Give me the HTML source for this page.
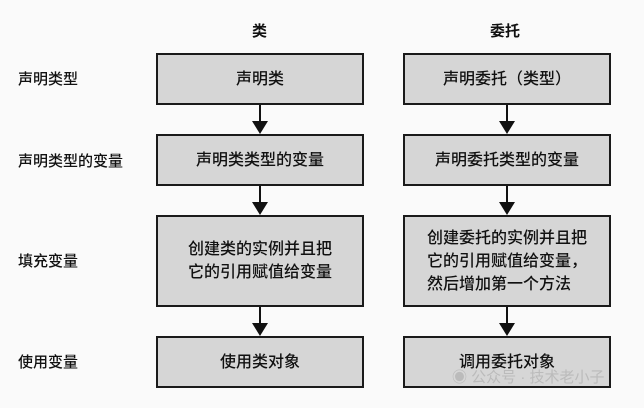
<!DOCTYPE html>
<html><head><meta charset="utf-8"><style>
body{margin:0;width:644px;height:408px;background:#fafafa;position:relative;overflow:hidden;font-family:"Liberation Sans","Noto Sans CJK SC",sans-serif;color:#111}
.b{position:absolute;background:#d6d6d6;border:2px solid #1a1a1a;box-sizing:border-box;display:flex;align-items:center;justify-content:center;font-size:16px;line-height:23px;text-align:left;font-weight:500}
.l{position:absolute;left:18px;font-size:15px;font-weight:500}
.h{position:absolute;top:20px;font-size:15px;font-weight:bold}
.ln{position:absolute;width:2px;background:#111}
.ar{position:absolute;width:0;height:0;border-left:8px solid transparent;border-right:8px solid transparent;border-top:13px solid #111}
.wm{position:absolute;left:452px;top:366px;font-size:15px;color:#bbb}
</style></head><body>
<div class="h" style="left:252px">类</div>
<div class="h" style="left:490px">委托</div>
<div class="l" style="top:68px">声明类型</div>
<div class="l" style="top:150px">声明类型的变量</div>
<div class="l" style="top:250px">填充变量</div>
<div class="l" style="top:351px">使用变量</div>

<div class="b" style="left:156px;top:53px;width:208px;height:52px">声明类</div>
<div class="b" style="left:156px;top:134px;width:208px;height:52px">声明类类型的变量</div>
<div class="b" style="left:156px;top:215px;width:208px;height:92px">创建类的实例并且把<br>它的引用赋值给变量</div>
<div class="b" style="left:156px;top:336px;width:208px;height:52px">使用类对象</div>

<div class="b" style="left:403px;top:53px;width:208px;height:52px">声明委托（类型）</div>
<div class="b" style="left:403px;top:134px;width:208px;height:52px">声明委托类型的变量</div>
<div class="b" style="left:403px;top:215px;width:208px;height:92px">创建委托的实例并且把<br>它的引用赋值给变量，<br>然后增加第一个方法</div>
<div class="b" style="left:403px;top:336px;width:208px;height:52px">调用委托对象</div>

<div class="ln" style="left:259px;top:105px;height:18px"></div><div class="ar" style="left:252px;top:121px"></div>
<div class="ln" style="left:259px;top:186px;height:18px"></div><div class="ar" style="left:252px;top:202px"></div>
<div class="ln" style="left:259px;top:307px;height:18px"></div><div class="ar" style="left:252px;top:323px"></div>
<div class="ln" style="left:506px;top:105px;height:18px"></div><div class="ar" style="left:499px;top:121px"></div>
<div class="ln" style="left:506px;top:186px;height:18px"></div><div class="ar" style="left:499px;top:202px"></div>
<div class="ln" style="left:506px;top:307px;height:18px"></div><div class="ar" style="left:499px;top:323px"></div>
<div class="wm">◉ 公众号 · 技术老小子</div>
</body></html>
